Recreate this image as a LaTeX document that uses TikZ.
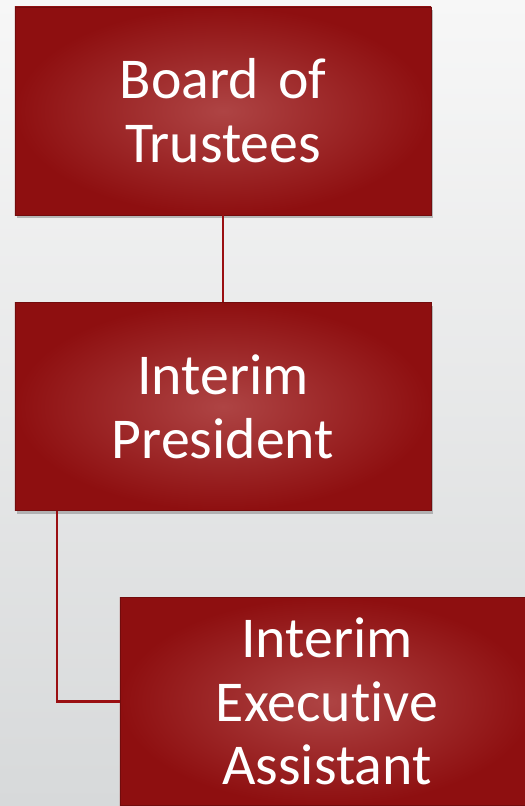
\documentclass[tikz,border=0pt]{standalone}
\usepackage{fontspec}
\setmainfont[Ligatures=NoCommon, RawFeature={-liga;-clig;-dlig}]{Carlito}
\usetikzlibrary{shadows}
\definecolor{boxedge}{HTML}{8E0F10}
\definecolor{boxmid}{HTML}{AE4444}
\definecolor{linered}{HTML}{9A0F12}
\definecolor{bgtop}{HTML}{F7F7F7}
\definecolor{bgbot}{HTML}{D7D9DA}
\tikzset{
  orgbox/.style={rectangle, inner color=boxmid, outer color=boxedge,
    draw=boxedge!80!black, line width=0.6bp,
    minimum width=416bp, minimum height=208bp, text width=400bp, align=center,
    text=white, font=\fontsize{58}{64}\selectfont,
    drop shadow={opacity=0.5, shadow xshift=2bp, shadow yshift=-3bp}},
  conn/.style={draw=linered, line width=2.6bp}
}
\begin{document}
\begin{tikzpicture}[x=1bp,y=-1bp]
\path[use as bounding box, top color=bgtop, bottom color=bgbot] (0,0) rectangle (525,806);
\node[orgbox] (bot) at (223,111) {Board of\\Trustees};
\node[orgbox] (pres) at (223,406.5) {Interim\\President};
\node[orgbox, minimum width=414bp] (asst) at (327,701.5) {Interim\\Execut\kern0pt ive\\Assistant};
\coordinate (bend) at (57,701.5);
\draw[conn] (bot.south) -- (pres.north);
\draw[conn] (pres.south -| bend) -- (bend) -- (asst.west);
\end{tikzpicture}
\end{document}
